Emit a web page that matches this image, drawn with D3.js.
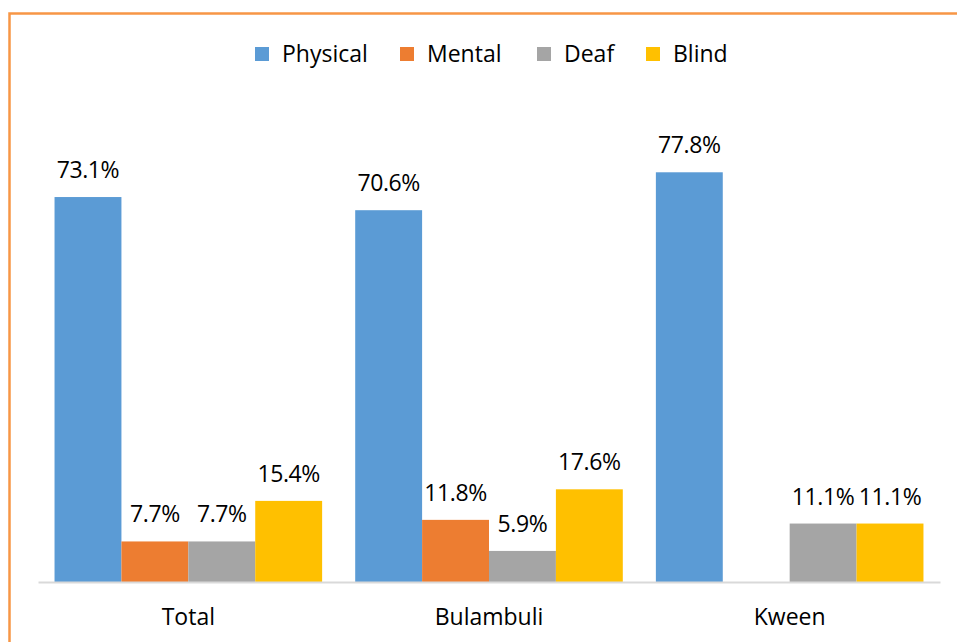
<!DOCTYPE html>
<html>
<head>
<meta charset="utf-8">
<script src="https://cdn.jsdelivr.net/npm/d3@7"></script>
<style>
  body { margin: 0; background: #fff; }
  text { font-family: "Open Sans", sans-serif; }
</style>
</head>
<body>
<svg id="chart"></svg>
<script>
// chart data
var categories = ["Total", "Bulambuli", "Kween"];
var seriesNames = ["Physical", "Mental", "Deaf", "Blind"];
var seriesColors = ["#5b9bd5", "#ed7d31", "#a5a5a5", "#ffc000"];
var physical = [73.1, 70.6, 77.8];
var mental = [7.7, 11.8, null];
var deaf = [7.7, 5.9, 11.1];
var blind = [15.4, 17.6, 11.1];
var seriesValues = [physical, mental, deaf, blind];

var width = 957, height = 642;

var svg = d3.select("#chart")
  .attr("width", width)
  .attr("height", height);

// orange border (runs off the right and bottom)
svg.append("rect")
  .attr("x", 9.5)
  .attr("y", 13.5)
  .attr("width", 1000)
  .attr("height", 700)
  .attr("fill", "none")
  .attr("stroke", "#f79646")
  .attr("stroke-width", 2.5);

var x0 = d3.scaleBand()
  .domain(categories)
  .range([38, 940])
  .paddingInner(0.11)
  .paddingOuter(0.055);

var x1 = d3.scaleBand()
  .domain(seriesNames)
  .range([0, x0.bandwidth()]);

var y = d3.scaleLinear()
  .domain([0, 80])
  .range([582, 160.7]);

// flatten to rows
var rows = [];
categories.forEach(function(c, i) {
  seriesNames.forEach(function(s, j) {
    rows.push({cat: c, series: s, color: seriesColors[j], value: seriesValues[j][i]});
  });
});

var bars = svg.append("g");
bars.selectAll("rect")
  .data(rows.filter(function(d) { return d.value != null; }))
  .enter()
  .append("rect")
  .attr("x", function(d) { return x0(d.cat) + x1(d.series); })
  .attr("width", x1.bandwidth())
  .attr("y", function(d) { return y(d.value); })
  .attr("height", function(d) { return y(0) - y(d.value); })
  .attr("fill", function(d) { return d.color; });

bars.selectAll("text")
  .data(rows.filter(function(d) { return d.value != null; }))
  .enter()
  .append("text")
  .attr("x", function(d) { return x0(d.cat) + x1(d.series) + x1.bandwidth() / 2; })
  .attr("y", function(d) { return y(d.value) - 19; })
  .attr("text-anchor", "middle")
  .style("font-size", "23px")
  .style("letter-spacing", "-0.4px")
  .style("fill", "#000")
  .text(function(d) { return d.value.toFixed(1) + "%"; });

// x axis
var xAxis = svg.append("g")
  .attr("transform", "translate(0," + y(0) + ")")
  .call(d3.axisBottom(x0).tickSize(0).tickPadding(27));
xAxis.select(".domain").attr("stroke", "#d9d9d9").attr("stroke-width", 2);
xAxis.selectAll("text")
  .style("font-size", "23px")
  .style("font-family", "'Open Sans', sans-serif")
  .style("fill", "#000");

// legend
var legendX = [255, 400, 537, 646];
var legend = svg.append("g");
seriesNames.forEach(function(s, i) {
  legend.append("rect")
    .attr("x", legendX[i])
    .attr("y", 47)
    .attr("width", 14)
    .attr("height", 14)
    .attr("fill", seriesColors[i]);
  legend.append("text")
    .attr("x", legendX[i] + 27)
    .attr("y", 62)
    .style("font-size", "23px")
    .style("fill", "#000")
    .text(s);
});
</script>
</body>
</html>
